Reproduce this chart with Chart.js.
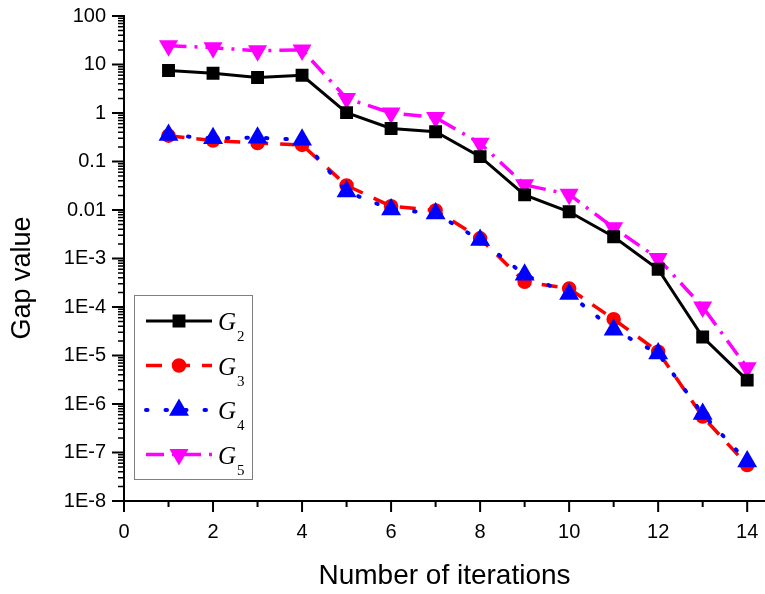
<!DOCTYPE html>
<html>
<head>
<meta charset="utf-8">
<script src="https://cdn.jsdelivr.net/npm/chart.js@4.4.1/dist/chart.umd.min.js"></script>
<style>
  body { margin: 0; background: #fff; }
  canvas { display: block; }
</style>
</head>
<body>
<canvas id="gapChart" width="765" height="594"></canvas>
<script>
// values
var iterations = [1, 2, 3, 4, 5, 6, 7, 8, 9, 10, 11, 12, 13, 14];
var g2 = [7.5, 6.6, 5.4, 6.0, 1.02, 0.48, 0.41, 0.126, 0.0205, 0.0092, 0.0028, 6.0e-4, 2.4e-5, 3.1e-6];
var g3 = [0.34, 0.27, 0.24, 0.22, 0.032, 0.012, 0.0098, 0.0026, 3.3e-4, 2.4e-4, 5.6e-5, 1.2e-5, 5.5e-7, 5.5e-8];
var g4 = [0.35, 0.30, 0.31, 0.28, 0.024, 0.0103, 0.0085, 0.0024, 4.6e-4, 1.85e-4, 3.4e-5, 1.1e-5, 6.2e-7, 6.5e-8];
var g5 = [24.4, 22.2, 19.3, 20, 2.0, 1.0, 0.81, 0.237, 0.033, 0.021, 0.0043, 1.0e-3, 1.0e-4, 5.6e-6];

var seriesNames = ['2', '3', '4', '5'];   // subscripts of G

var xTickValues = [0, 2, 4, 6, 8, 10, 12, 14];
var xTickLabels = ['0', '2', '4', '6', '8', '10', '12', '14'];
var yTickValues = [1e-8, 1e-7, 1e-6, 1e-5, 1e-4, 1e-3, 0.01, 0.1, 1, 10, 100];
var yTickLabels = ['1E-8', '1E-7', '1E-6', '1E-5', '1E-4', '1E-3', '0.01', '0.1', '1', '10', '100'];

function toPoints(vals) {
    return vals.map(function (v, i) { return { x: iterations[i], y: v }; });
}

// ticks drawn by hand so majors and minors can have different lengths
var axisTicks = {
    id: 'axisTicks',
    afterDraw: function (chart) {
        var ctx = chart.ctx;
        var xs = chart.scales.x, ys = chart.scales.y;
        var a = chart.chartArea;
        ctx.save();
        ctx.strokeStyle = '#000';
        ctx.lineWidth = 2;
        ctx.beginPath();
        for (var i = 0; i <= 14; i++) {
            var px = xs.getPixelForValue(i);
            var len = (i % 2 === 0) ? 11 : 6;
            ctx.moveTo(px, a.bottom);
            ctx.lineTo(px, a.bottom + len);
        }
        yTickValues.forEach(function (v) {
            var py = ys.getPixelForValue(v);
            ctx.moveTo(a.left, py);
            ctx.lineTo(a.left - 12, py);
        });
        ctx.stroke();
        ctx.lineWidth = 1.5;
        ctx.beginPath();
        for (var k = -8; k < 2; k++) {
            for (var m = 2; m <= 9; m++) {
                var p = ys.getPixelForValue(m * Math.pow(10, k));
                ctx.moveTo(a.left, p);
                ctx.lineTo(a.left - 6, p);
            }
        }
        ctx.stroke();

        // y axis title
        ctx.translate(23, 278);
        ctx.rotate(-Math.PI / 2);
        ctx.fillStyle = '#000';
        ctx.font = '27px "Liberation Sans", Arial, sans-serif';
        ctx.textAlign = 'center';
        ctx.textBaseline = 'middle';
        ctx.fillText('Gap value', 0, 0);
        ctx.restore();
    }
};

// boxed legend with italic G and subscript
var boxLegend = {
    id: 'boxLegend',
    afterDraw: function (chart) {
        var ctx = chart.ctx;
        ctx.save();
        ctx.strokeStyle = '#7f7f7f';
        ctx.lineWidth = 1;
        ctx.strokeRect(134.5, 295.5, 118, 184);
        chart.data.datasets.forEach(function (ds, i) {
            var y = 321 + i * 44.5;
            ctx.save();
            ctx.strokeStyle = ds.borderColor;
            ctx.lineWidth = ds.borderWidth;
            ctx.lineCap = ds.borderCapStyle || 'butt';
            ctx.setLineDash(ds.borderDash || []);
            ctx.beginPath();
            ctx.moveTo(146, y);
            ctx.lineTo(212, y);
            ctx.stroke();
            ctx.setLineDash([]);
            ctx.fillStyle = ds.pointBackgroundColor;
            ctx.strokeStyle = ds.pointBorderColor;
            Chart.helpers.drawPoint(ctx, {
                pointStyle: ds.pointStyle,
                radius: ds.pointRadius,
                rotation: ds.pointRotation || 0,
                borderWidth: 1
            }, 179, y);
            ctx.restore();

            ctx.fillStyle = '#000';
            ctx.textAlign = 'left';
            ctx.textBaseline = 'alphabetic';
            ctx.font = 'italic 25px "Liberation Serif", "Times New Roman", serif';
            ctx.fillText('G', 218, y + 9);
            var w = ctx.measureText('G').width;
            ctx.font = '15px "Liberation Serif", "Times New Roman", serif';
            ctx.fillText(seriesNames[i], 218 + w + 1, y + 20);
        });
        ctx.restore();
    }
};

var ctx = document.getElementById('gapChart').getContext('2d');
var gapChart = new Chart(ctx, {
    type: 'line',
    data: {
        datasets: [{
            label: 'G2',
            data: toPoints(g2),
            borderColor: '#000000',
            borderWidth: 3,
            pointStyle: 'rect',
            pointRadius: 7,
            pointBackgroundColor: '#000000',
            pointBorderColor: '#000000',
            order: 1
        }, {
            label: 'G3',
            data: toPoints(g3),
            borderColor: '#ff0000',
            borderWidth: 3.5,
            borderDash: [16, 12],
            pointStyle: 'circle',
            pointRadius: 5.5,
            pointBackgroundColor: '#ff0000',
            pointBorderColor: '#ff0000',
            order: 3
        }, {
            label: 'G4',
            data: toPoints(g4),
            borderColor: '#0000ff',
            borderWidth: 4,
            borderDash: [1.5, 18],
            borderCapStyle: 'round',
            pointStyle: 'triangle',
            pointRadius: 7.5,
            pointBackgroundColor: '#0000ff',
            pointBorderColor: '#0000ff',
            order: 0
        }, {
            label: 'G5',
            data: toPoints(g5),
            borderColor: '#ff00ff',
            borderWidth: 3.5,
            borderDash: [18, 8, 3, 8],
            pointStyle: 'triangle',
            pointRotation: 180,
            pointRadius: 7.5,
            pointBackgroundColor: '#ff00ff',
            pointBorderColor: '#ff00ff',
            order: 2
        }]
    },
    options: {
        responsive: false,
        animation: false,
        layout: { autoPadding: false, padding: { top: 16, right: 0, bottom: 0, left: 0 } },
        plugins: {
            legend: { display: false },
            tooltip: { enabled: false }
        },
        elements: { line: { tension: 0 }, point: { borderWidth: 1 } },
        scales: {
            x: {
                type: 'linear',
                min: 0,
                max: 14.4,
                afterBuildTicks: function (scale) {
                    scale.ticks = xTickValues.map(function (v) { return { value: v }; });
                },
                afterFit: function (scale) {
                    scale.height = 93;
                    scale.paddingLeft = 0;
                    scale.paddingRight = 0;
                },
                ticks: {
                    color: '#000',
                    padding: 8,
                    maxRotation: 0,
                    font: { family: '"Liberation Sans", Arial, sans-serif', size: 20 },
                    callback: function (v, i) { return xTickLabels[i]; }
                },
                grid: { drawOnChartArea: false, drawTicks: true, tickLength: 11, color: 'rgba(0,0,0,0)' },
                border: { display: true, color: '#000', width: 2 },
                title: {
                    display: true,
                    text: 'Number of iterations',
                    color: '#000',
                    font: { family: '"Liberation Sans", Arial, sans-serif', size: 28 },
                    padding: { top: 0, bottom: 1 }
                }
            },
            y: {
                type: 'logarithmic',
                min: 1e-8,
                max: 100,
                afterBuildTicks: function (scale) {
                    scale.ticks = yTickValues.map(function (v) { return { value: v }; });
                },
                afterFit: function (scale) {
                    scale.width = 124;
                    scale.paddingTop = 0;
                    scale.paddingBottom = 0;
                },
                ticks: {
                    color: '#000',
                    padding: 6,
                    font: { family: '"Liberation Sans", Arial, sans-serif', size: 20 },
                    callback: function (v, i) { return yTickLabels[i]; }
                },
                grid: { drawOnChartArea: false, drawTicks: true, tickLength: 12, color: 'rgba(0,0,0,0)' },
                border: { display: true, color: '#000', width: 2 }
            }
        }
    },
    plugins: [axisTicks, boxLegend]
});
</script>
</body>
</html>
